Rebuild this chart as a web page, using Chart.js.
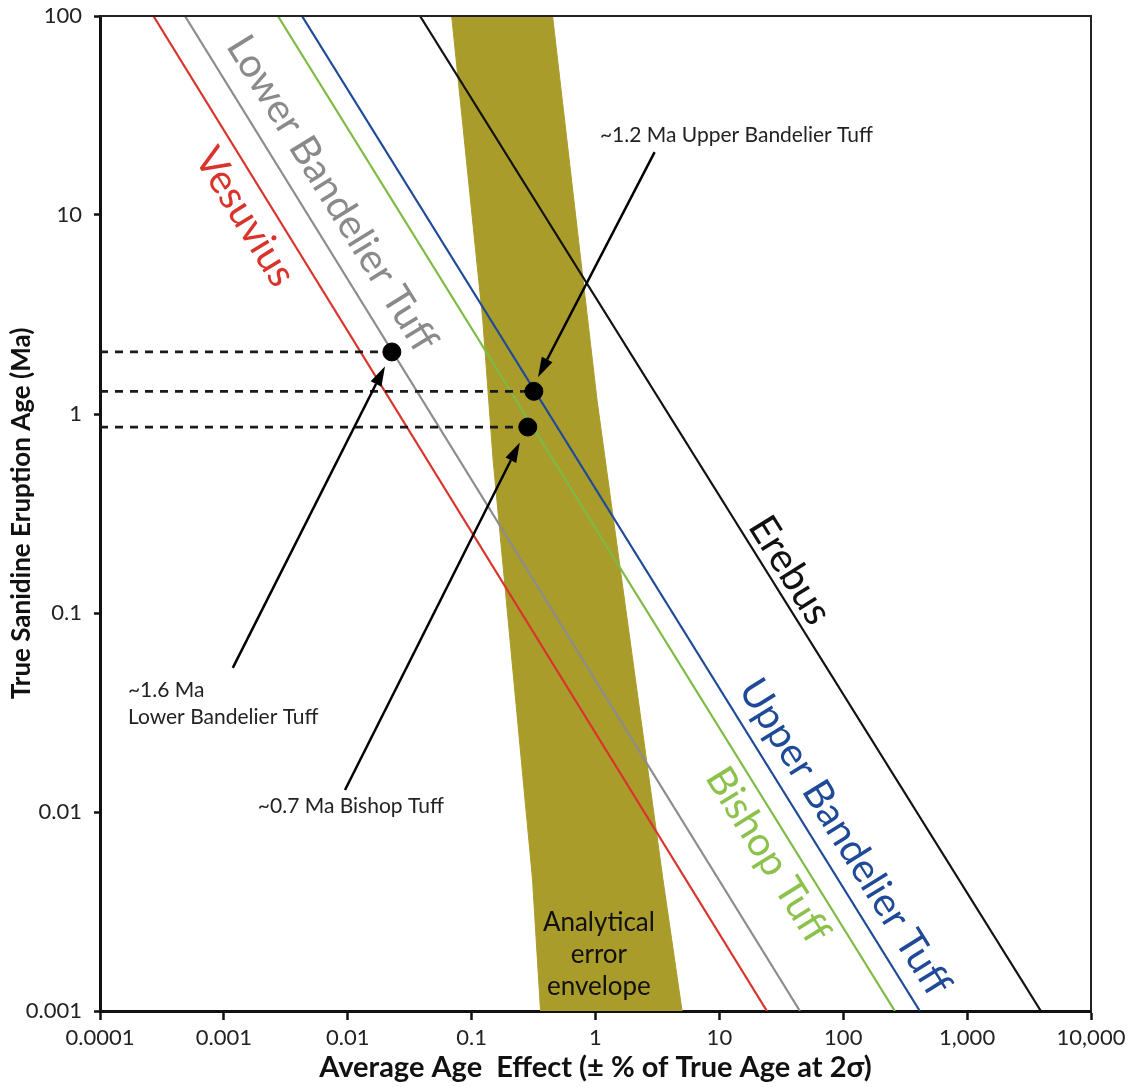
<!DOCTYPE html>
<html>
<head>
<meta charset="utf-8">
<script src="https://cdn.jsdelivr.net/npm/chart.js@4.4.1/dist/chart.umd.min.js"></script>
<style>
  html, body { margin: 0; padding: 0; background: #fff; }
  #wrap { width: 1138px; height: 1087px; }
</style>
</head>
<body>
<div id="wrap"><canvas id="grafico"></canvas></div>
<script>
// ages (Ma) where every line meets the top and the bottom of the plot
const lineAges = [100, 0.001];
// average age effect (%) of each line at those two ages
const vesuvius = [0.00027, 24.2];
const lowerBandelier = [0.000485, 44.7];
const bishop = [0.00273, 261];
const upperBandelier = [0.00427, 415];
const erebus = [0.0383, 3940];

// outline of the analytical error envelope
const envelopeX = [0.069, 0.45, 0.55, 1.03, 3.5, 5.0, 0.36, 0.31, 0.149, 0.123, 0.069];
const envelopeY = [100, 100, 34, 1.17, 0.0046, 0.001, 0.001, 0.0046, 0.59, 2.97, 100];

// dated eruptions
const dotEffect = [0.0227, 0.318, 0.284];
const dotAge = [2.05, 1.3, 0.86];

// arrows from the notes to the dots
const arrowFromX = [3.0, 0.00118, 0.0095];
const arrowFromY = [20.7, 0.053, 0.0129];
const arrowToX = [0.343, 0.020, 0.245];
const arrowToY = [1.53, 1.74, 0.72];

// notes
const noteText = [['~1.2 Ma Upper Bandelier Tuff'], ['~1.6 Ma', 'Lower Bandelier Tuff'], ['~0.7 Ma Bishop Tuff']];
const noteX = [1.085, 0.000168, 0.00188];
const noteY = [25.2, 0.041, 0.0107];

// names written along the lines
const lineNames = ['Vesuvius', 'Lower Bandelier Tuff', 'Bishop Tuff', 'Upper Bandelier Tuff', 'Erebus'];
const lineLabelX = [0.00148, 0.00745, 24.6, 103, 37.1];
const lineLabelY = [9.77, 12.8, 0.00608, 0.00748, 0.164];

const envelopeText = ['Analytical', 'error', 'envelope'];
const envelopeTextX = 1.065;
const envelopeTextY = 0.00191;

const xTicks = [0.0001, 0.001, 0.01, 0.1, 1, 10, 100, 1000, 10000];
const xTickLabels = ['0.0001', '0.001', '0.01', '0.1', '1', '10', '100', '1,000', '10,000'];
const yTicks = [0.001, 0.01, 0.1, 1, 10, 100];
const yTickLabels = ['0.001', '0.01', '0.1', '1', '10', '100'];

const cores = {
  vesuvius: '#d9342b',
  lower: '#8c8c8c',
  bishop: '#7dbb45',
  upper: '#1f4a97',
  erebus: '#111111',
  envelope: '#a99c2b'
};
const labelCores = [cores.vesuvius, '#8a8a8a', '#8cc24c', cores.upper, '#111111'];
const lineSeries = [vesuvius, lowerBandelier, bishop, upperBandelier, erebus];

const FONT = 'Lato, "Noto Sans", sans-serif';

function pontos(xs, ys) {
  return xs.map((v, i) => ({ x: v, y: ys[i] }));
}

function linha(serie, cor) {
  return {
    data: pontos(serie, lineAges),
    showLine: true,
    borderColor: cor,
    borderWidth: 2.2,
    pointRadius: 0,
    fill: false,
    order: 2
  };
}

const datasets = [
  {
    data: pontos(envelopeX, envelopeY),
    showLine: true,
    fill: 'shape',
    backgroundColor: cores.envelope,
    borderColor: cores.envelope,
    borderWidth: 1,
    pointRadius: 0,
    order: 10
  },
  linha(vesuvius, cores.vesuvius),
  linha(lowerBandelier, cores.lower),
  linha(bishop, cores.bishop),
  linha(upperBandelier, cores.upper),
  linha(erebus, cores.erebus)
];

dotEffect.forEach((e, i) => {
  datasets.push({
    data: [{ x: xTicks[0], y: dotAge[i] }, { x: e, y: dotAge[i] }],
    showLine: true,
    borderColor: '#1a1a1a',
    borderWidth: 2.8,
    borderDash: [8, 7],
    pointRadius: 0,
    order: 1
  });
});

datasets.push({
  data: pontos(dotEffect, dotAge),
  showLine: false,
  pointRadius: 9,
  pointBackgroundColor: '#000',
  pointBorderColor: '#000',
  order: 0
});

function seta(ctx, x0, y0, x1, y1) {
  const ang = Math.atan2(y1 - y0, x1 - x0);
  const len = 20, half = 6;
  const bx = x1 - len * Math.cos(ang), by = y1 - len * Math.sin(ang);
  ctx.beginPath();
  ctx.moveTo(x0, y0);
  ctx.lineTo(bx, by);
  ctx.stroke();
  ctx.beginPath();
  ctx.moveTo(x1, y1);
  ctx.lineTo(bx + half * Math.sin(ang), by - half * Math.cos(ang));
  ctx.lineTo(bx - half * Math.sin(ang), by + half * Math.cos(ang));
  ctx.closePath();
  ctx.fill();
}

const anotacoes = {
  id: 'anotacoes',
  afterDatasetsDraw(chart) {
    const { ctx, chartArea: a, scales: { x, y } } = chart;
    ctx.save();

    // top and right frame
    ctx.strokeStyle = '#222';
    ctx.lineWidth = 2;
    ctx.beginPath();
    ctx.moveTo(a.left, a.top);
    ctx.lineTo(a.right, a.top);
    ctx.lineTo(a.right, a.bottom);
    ctx.stroke();

    // names along the lines
    lineNames.forEach((nome, i) => {
      const s = lineSeries[i];
      const p0x = x.getPixelForValue(s[0]), p0y = y.getPixelForValue(lineAges[0]);
      const p1x = x.getPixelForValue(s[1]), p1y = y.getPixelForValue(lineAges[1]);
      const ang = Math.atan2(p1y - p0y, p1x - p0x);
      ctx.save();
      ctx.translate(x.getPixelForValue(lineLabelX[i]), y.getPixelForValue(lineLabelY[i]));
      ctx.rotate(ang);
      ctx.font = '40px ' + FONT;
      ctx.fillStyle = labelCores[i];
      ctx.textAlign = 'center';
      ctx.textBaseline = 'middle';
      ctx.fillText(nome, 0, 0);
      ctx.restore();
    });

    // envelope text
    ctx.font = '26px ' + FONT;
    ctx.fillStyle = '#111';
    ctx.textAlign = 'center';
    ctx.textBaseline = 'middle';
    const ex = x.getPixelForValue(envelopeTextX), ey = y.getPixelForValue(envelopeTextY);
    envelopeText.forEach((t, i) => ctx.fillText(t, ex, ey + (i - 1) * 32));

    // notes
    ctx.font = '21px ' + FONT;
    ctx.fillStyle = '#222';
    ctx.textAlign = 'left';
    noteText.forEach((linhas, i) => {
      const nx = x.getPixelForValue(noteX[i]), ny = y.getPixelForValue(noteY[i]);
      linhas.forEach((t, j) => ctx.fillText(t, nx, ny + j * 27));
    });

    // arrows
    ctx.strokeStyle = '#000';
    ctx.fillStyle = '#000';
    ctx.lineWidth = 2.5;
    arrowFromX.forEach((v, i) => {
      seta(ctx,
        x.getPixelForValue(v), y.getPixelForValue(arrowFromY[i]),
        x.getPixelForValue(arrowToX[i]), y.getPixelForValue(arrowToY[i]));
    });

    ctx.restore();
  }
};

new Chart(document.getElementById('grafico'), {
  type: 'scatter',
  data: { datasets },
  options: {
    responsive: true,
    maintainAspectRatio: false,
    animation: false,
    layout: { padding: { top: 16, right: 47, left: 0, bottom: 0 } },
    plugins: { legend: { display: false }, tooltip: { enabled: false } },
    scales: {
      x: {
        type: 'logarithmic',
        min: 0.0001,
        max: 10000,
        afterBuildTicks: s => { s.ticks = xTicks.map(v => ({ value: v })); },
        afterFit: s => { s.height = 76; s.paddingLeft = 0; s.paddingRight = 0; },
        ticks: {
          autoSkip: false,
          maxRotation: 0,
          padding: 5,
          color: '#222',
          font: { family: FONT, size: 22 },
          callback: v => xTickLabels[xTicks.indexOf(v)]
        },
        grid: { drawOnChartArea: false, drawTicks: true, tickLength: 9, tickWidth: 2.5, tickColor: '#111' },
        border: { display: true, color: '#111', width: 3 },
        title: {
          display: true,
          text: 'Average Age  Effect (\u00b1 % of True Age at 2\u03c3)',
          color: '#111',
          font: { family: FONT, size: 29, weight: 'bold' },
          padding: { top: 0, bottom: 2 }
        }
      },
      y: {
        type: 'logarithmic',
        min: 0.001,
        max: 100,
        afterBuildTicks: s => { s.ticks = yTicks.map(v => ({ value: v })); },
        afterFit: s => { s.width = 100; s.paddingTop = 0; s.paddingBottom = 0; },
        ticks: {
          autoSkip: false,
          padding: 12,
          color: '#222',
          font: { family: FONT, size: 22 },
          callback: v => yTickLabels[yTicks.indexOf(v)]
        },
        grid: { drawOnChartArea: false, drawTicks: true, tickLength: 6, tickWidth: 2.5, tickColor: '#111' },
        border: { display: true, color: '#111', width: 3 },
        title: {
          display: true,
          text: 'True Sanidine Eruption Age (Ma)',
          color: '#111',
          font: { family: FONT, size: 26, weight: 'bold' },
          padding: { top: 6, bottom: 0 }
        }
      }
    }
  },
  plugins: [anotacoes]
});
</script>
</body>
</html>
